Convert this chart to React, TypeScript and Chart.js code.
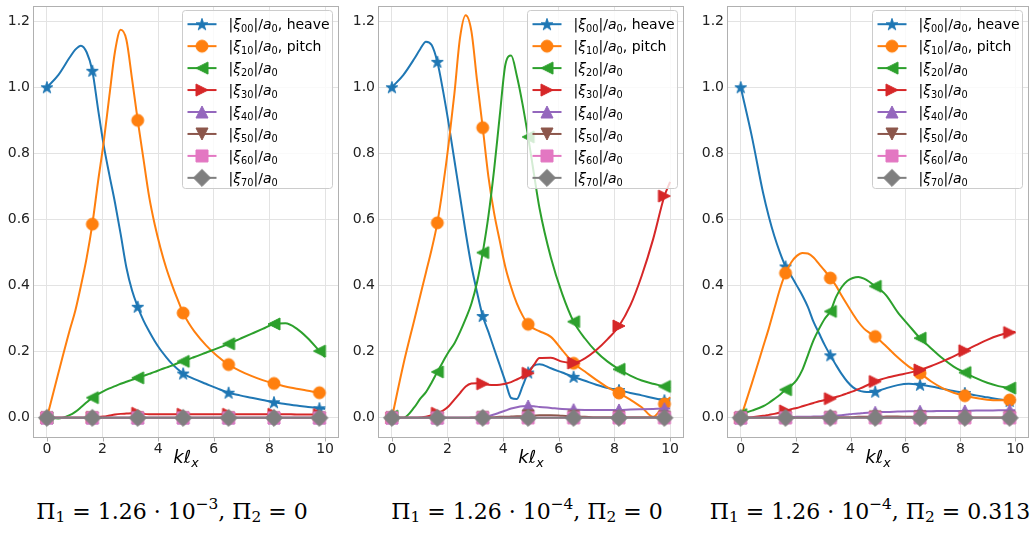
import React, { useEffect, useRef } from "react";
import { Chart, registerables } from "chart.js";
Chart.register(...registerables);

// ---------------- data ----------------
const KX = [
  0, 0.408, 0.816, 1.02, 1.224, 1.429, 1.633,
  1.837, 2.041, 2.245, 2.449, 2.653, 2.857, 3.061, 3.265,
  3.469, 3.673, 3.878, 4.082, 4.286, 4.49, 4.694, 4.898,
  5.102, 5.306, 5.714, 6.122, 6.531, 6.939, 7.347, 7.755,
  8.163, 8.571, 8.98, 9.388, 9.796, 10.0,
];
const MARK_X = [0, 1.633, 3.265, 4.898, 6.531, 8.163, 9.796];
const X_TICKS = [0, 2, 4, 6, 8, 10];
const Y_TICKS = [0, 0.2, 0.4, 0.6, 0.8, 1.0, 1.2];
const MODE_IDX = ["00", "10", "20", "30", "40", "50", "60", "70"];
const MODE_SUFFIX = [", heave", ", pitch", "", "", "", "", "", ""];

// Panel 1: Π1 = 1.26e-3, Π2 = 0
const P1_XI00 = [
  1.0, 1.037, 1.09, 1.114, 1.126, 1.106, 1.05,
  0.935, 0.825, 0.735, 0.65, 0.555, 0.455, 0.385, 0.336,
  0.295, 0.262, 0.232, 0.206, 0.184, 0.164, 0.148, 0.134,
  0.125, 0.117, 0.103, 0.089, 0.076, 0.068, 0.061, 0.054,
  0.047, 0.042, 0.037, 0.033, 0.029, 0.027,
];
const P1_XI10 = [
  0, 0.134, 0.264, 0.324, 0.4, 0.484, 0.586,
  0.714, 0.834, 0.974, 1.109, 1.174, 1.144, 1.025, 0.9,
  0.784, 0.67, 0.584, 0.514, 0.454, 0.404, 0.359, 0.317,
  0.286, 0.261, 0.22, 0.187, 0.161, 0.142, 0.127, 0.114,
  0.104, 0.095, 0.088, 0.082, 0.076, 0.074,
];
const P1_XI20 = [
  0, -0.002, 0.008, 0.018, 0.032, 0.047, 0.061,
  0.072, 0.081, 0.089, 0.096, 0.103, 0.109, 0.115, 0.121,
  0.127, 0.133, 0.139, 0.146, 0.152, 0.158, 0.165, 0.171,
  0.178, 0.184, 0.197, 0.21, 0.224, 0.239, 0.254, 0.269,
  0.284, 0.286, 0.27, 0.24, 0.202, 0.184,
];
const P1_XI30 = [
  0, 0, 0, 0, 0, 0, 0.001,
  0.002, 0.004, 0.007, 0.01, 0.012, 0.013, 0.014, 0.014,
  0.012, 0.011, 0.011, 0.011, 0.011, 0.011, 0.011, 0.011,
  0.011, 0.011, 0.011, 0.011, 0.011, 0.011, 0.011, 0.011,
  0.011, 0.011, 0.01, 0.01, 0.01, 0.01,
];
const P1_XI40 = [
  0, 0, 0, 0, 0, 0, 0,
  0, 0, 0, 0, 0, 0, 0, 0,
  0, 0, 0, 0, 0, 0, 0, 0,
  0, 0, 0, 0, 0, 0, 0, 0,
  0, 0, 0, 0, 0, 0,
];
const P1_XI50 = [
  0, 0, 0, 0, 0, 0, 0,
  0, 0, 0, 0, 0, 0, 0, 0,
  0, 0, 0, 0, 0, 0, 0, 0,
  0, 0, 0, 0, 0, 0, 0, 0,
  0, 0, 0, 0, 0, 0,
];
const P1_XI60 = [
  0, 0, 0, 0, 0, 0, 0,
  0, 0, 0, 0, 0, 0, 0, 0,
  0, 0, 0, 0, 0, 0, 0, 0,
  0, 0, 0, 0, 0, 0, 0, 0,
  0, 0, 0, 0, 0, 0,
];
const P1_XI70 = [
  0, 0, 0, 0, 0, 0, 0,
  0, 0, 0, 0, 0, 0, 0, 0,
  0, 0, 0, 0, 0, 0, 0, 0,
  0, 0, 0, 0, 0, 0, 0, 0,
  0, 0, 0, 0, 0, 0,
];

// Panel 2: Π1 = 1.26e-4, Π2 = 0
const P2_XI00 = [
  1.0, 1.037, 1.088, 1.116, 1.138, 1.128, 1.077,
  0.99, 0.89, 0.78, 0.67, 0.56, 0.46, 0.38, 0.308,
  0.26, 0.209, 0.159, 0.109, 0.06, 0.057, 0.095, 0.137,
  0.158, 0.162, 0.15, 0.137, 0.124, 0.112, 0.1, 0.09,
  0.084, 0.075, 0.068, 0.06, 0.053, 0.05,
];
const P2_XI10 = [
  0, 0.16, 0.3, 0.37, 0.44, 0.51, 0.59,
  0.7, 0.83, 0.98, 1.15, 1.218, 1.17, 1.02, 0.878,
  0.73, 0.62, 0.535, 0.455, 0.395, 0.346, 0.31, 0.283,
  0.27, 0.262, 0.245, 0.205, 0.165, 0.14, 0.115, 0.092,
  0.075, 0.055, 0.032, 0.003, 0.042, 0.063,
];
const P2_XI20 = [
  0.005, 0.0, 0.033, 0.058, 0.078, 0.107, 0.139,
  0.17, 0.2, 0.225, 0.26, 0.3, 0.345, 0.41, 0.5,
  0.61, 0.75, 0.915, 1.07, 1.096, 1.035, 0.95, 0.85,
  0.74, 0.634, 0.485, 0.375, 0.291, 0.24, 0.2, 0.17,
  0.147, 0.128, 0.113, 0.103, 0.095, 0.09,
];
const P2_XI30 = [
  0, 0, 0, 0.001, 0.003, 0.008, 0.014,
  0.022, 0.035, 0.055, 0.075, 0.095, 0.104, 0.105, 0.103,
  0.1, 0.099, 0.1, 0.103, 0.108, 0.116, 0.125, 0.135,
  0.16, 0.181, 0.182, 0.17, 0.166, 0.18, 0.205, 0.238,
  0.278, 0.34, 0.43, 0.54, 0.671, 0.714,
];
const P2_XI40 = [
  0, 0, 0, 0, 0, 0, 0,
  0, 0, 0, 0, 0, 0, 0.001, 0.002,
  0.005, 0.01, 0.016, 0.022, 0.028, 0.032, 0.035, 0.036,
  0.035, 0.033, 0.03, 0.027, 0.025, 0.024, 0.024, 0.024,
  0.024, 0.025, 0.026, 0.027, 0.028, 0.028,
];
const P2_XI50 = [
  0, 0, 0, 0, 0, 0, 0,
  0, 0, 0, 0, 0, 0.001, 0.001, 0.001,
  0.002, 0.002, 0.003, 0.003, 0.004, 0.005, 0.005, 0.006,
  0.007, 0.008, 0.008, 0.006, 0.004, 0.003, 0.002, 0.002,
  0.002, 0.002, 0.002, 0.002, 0.002, 0.002,
];
const P2_XI60 = [
  0, 0, 0, 0, 0, 0, 0,
  0, 0, 0, 0, 0, 0, 0, 0,
  0, 0, 0, 0, 0, 0, 0, 0,
  0, 0, 0, 0, 0, 0, 0, 0,
  0, 0, 0, 0, 0, 0,
];
const P2_XI70 = [
  0, 0, 0, 0, 0, 0, 0,
  0, 0, 0, 0, 0, 0, 0, 0,
  0, 0, 0, 0, 0, 0, 0, 0,
  0, 0, 0, 0, 0, 0, 0, 0,
  0, 0, 0, 0, 0, 0,
];

// Panel 3: Π1 = 1.26e-4, Π2 = 0.313
const P3_XI00 = [
  1.0, 0.85, 0.68, 0.61, 0.55, 0.5, 0.458,
  0.43, 0.4, 0.37, 0.335, 0.29, 0.255, 0.22, 0.189,
  0.16, 0.133, 0.11, 0.093, 0.083, 0.079, 0.078, 0.079,
  0.084, 0.09, 0.099, 0.103, 0.1, 0.095, 0.088, 0.081,
  0.075, 0.068, 0.062, 0.056, 0.051, 0.049,
];
const P3_XI10 = [
  0, 0.105, 0.215, 0.27, 0.33, 0.39, 0.438,
  0.47, 0.49, 0.499, 0.497, 0.485, 0.465, 0.445, 0.423,
  0.4, 0.37, 0.342, 0.315, 0.29, 0.27, 0.257, 0.246,
  0.232, 0.216, 0.183, 0.155, 0.135, 0.11, 0.09, 0.076,
  0.067, 0.06, 0.055, 0.053, 0.054, 0.054,
];
const P3_XI20 = [
  0.01, 0.022, 0.035, 0.045, 0.057, 0.07, 0.085,
  0.097, 0.115, 0.145, 0.19, 0.235, 0.27, 0.3, 0.322,
  0.365, 0.395, 0.414, 0.423, 0.426, 0.421, 0.411, 0.398,
  0.386, 0.37, 0.32, 0.28, 0.241, 0.21, 0.18, 0.155,
  0.137, 0.12, 0.106, 0.096, 0.09, 0.086,
];
const P3_XI30 = [
  0, 0.002, 0.006, 0.009, 0.012, 0.016, 0.021,
  0.026, 0.03, 0.035, 0.04, 0.045, 0.05, 0.054, 0.058,
  0.063, 0.068, 0.074, 0.08, 0.087, 0.094, 0.102, 0.11,
  0.116, 0.121, 0.129, 0.136, 0.145, 0.157, 0.171, 0.186,
  0.203, 0.22, 0.236, 0.249, 0.258, 0.26,
];
const P3_XI40 = [
  0, 0, 0.001, 0.001, 0.001, 0.002, 0.002,
  0.002, 0.003, 0.003, 0.003, 0.004, 0.004, 0.005, 0.006,
  0.007, 0.008, 0.01, 0.012, 0.013, 0.015, 0.016, 0.017,
  0.018, 0.018, 0.019, 0.02, 0.02, 0.02, 0.021, 0.021,
  0.021, 0.022, 0.022, 0.023, 0.023, 0.023,
];
const P3_XI50 = [
  0, 0, 0, 0, 0, 0, 0,
  0, 0, 0, 0, 0.001, 0.001, 0.001, 0.001,
  0.001, 0.002, 0.002, 0.002, 0.003, 0.003, 0.003, 0.003,
  0.003, 0.004, 0.004, 0.003, 0.003, 0.002, 0.002, 0.002,
  0.001, 0.001, 0.001, 0.001, 0.001, 0.001,
];
const P3_XI60 = [
  0, 0, 0, 0, 0, 0, 0,
  0, 0, 0, 0, 0, 0, 0, 0,
  0, 0, 0, 0, 0, 0, 0, 0,
  0, 0, 0, 0, 0, 0, 0, 0,
  0, 0, 0, 0, 0, 0,
];
const P3_XI70 = [
  0, 0, 0, 0, 0, 0, 0,
  0, 0, 0, 0, 0, 0, 0, 0,
  0, 0, 0, 0, 0, 0, 0, 0,
  0, 0, 0, 0, 0, 0, 0, 0,
  0, 0, 0, 0, 0, 0,
];

const PANEL_SERIES = [
  [P1_XI00, P1_XI10, P1_XI20, P1_XI30, P1_XI40, P1_XI50, P1_XI60, P1_XI70],
  [P2_XI00, P2_XI10, P2_XI20, P2_XI30, P2_XI40, P2_XI50, P2_XI60, P2_XI70],
  [P3_XI00, P3_XI10, P3_XI20, P3_XI30, P3_XI40, P3_XI50, P3_XI60, P3_XI70],
];
const TITLE_PI1_MANT = ["1.26", "1.26", "1.26"];
const TITLE_PI1_EXP = ["−3", "−4", "−4"];
const TITLE_PI2 = ["0", "0", "0.313"];

// ---------------- style / layout ----------------
const COLORS = ["#1f77b4", "#ff7f0e", "#2ca02c", "#d62728", "#9467bd", "#8c564b", "#e377c2", "#7f7f7f"];
const MARKERS = ["star", "circle", "triLeft", "triRight", "triUp", "triDown", "square", "diamond"];
const GRID = "#e3e3e3";
const SPINE = "#b0b0b0";
const FONT = '"DejaVu Sans", sans-serif';
const PANEL_LAYOUT = [
  { left: 0, yW: 33, plotW: 308, padR: 4 },
  { left: 345, yW: 33, plotW: 310, padR: 2 },
  { left: 694, yW: 33, plotW: 308, padR: 0 },
];
const TITLE_CENTERS = [172, 527, 870];
const CANVAS_H = 480;
const X_AXIS_H = 42;
const MARKER_SIZE = 12;

type Seg = { t: string; it?: boolean; sub?: boolean };

function makeMarker(kind: string, color: string): HTMLCanvasElement {
  const c = document.createElement("canvas");
  c.width = 26;
  c.height = 26;
  const g = c.getContext("2d")!;
  const cx = 13, cy = 13, s = MARKER_SIZE, h = s / 2;
  g.fillStyle = color;
  g.strokeStyle = color;
  g.lineWidth = 1;
  g.lineJoin = "miter";
  g.beginPath();
  if (kind === "circle") {
    g.arc(cx, cy, h, 0, Math.PI * 2);
  } else if (kind === "star") {
    for (let i = 0; i < 10; i++) {
      const r = i % 2 === 0 ? h * 1.05 : h * 1.05 * 0.382;
      const a = -Math.PI / 2 + (i * Math.PI) / 5;
      const px = cx + r * Math.cos(a), py = cy + 0.5 + r * Math.sin(a);
      if (i === 0) g.moveTo(px, py); else g.lineTo(px, py);
    }
    g.closePath();
  } else if (kind === "triUp") {
    g.moveTo(cx, cy - h); g.lineTo(cx + h, cy + h); g.lineTo(cx - h, cy + h); g.closePath();
  } else if (kind === "triDown") {
    g.moveTo(cx, cy + h); g.lineTo(cx + h, cy - h); g.lineTo(cx - h, cy - h); g.closePath();
  } else if (kind === "triLeft") {
    g.moveTo(cx - h, cy); g.lineTo(cx + h, cy - h); g.lineTo(cx + h, cy + h); g.closePath();
  } else if (kind === "triRight") {
    g.moveTo(cx + h, cy); g.lineTo(cx - h, cy - h); g.lineTo(cx - h, cy + h); g.closePath();
  } else if (kind === "square") {
    g.rect(cx - h, cy - h, s, s);
  } else {
    const d = h * Math.SQRT2;
    g.moveTo(cx, cy - d); g.lineTo(cx + d, cy); g.lineTo(cx, cy + d); g.lineTo(cx - d, cy); g.closePath();
  }
  g.fill();
  g.stroke();
  return c;
}

function drawRich(ctx: CanvasRenderingContext2D, segs: Seg[], x: number, y: number, size: number, align: string) {
  const fontFor = (s: Seg) => `${s.it ? "italic " : ""}${s.sub ? (size * 0.7).toFixed(1) : size}px ${FONT}`;
  let w = 0;
  for (const s of segs) { ctx.font = fontFor(s); w += ctx.measureText(s.t).width; }
  let cx = align === "center" ? x - w / 2 : x;
  ctx.textAlign = "left";
  ctx.textBaseline = "alphabetic";
  for (const s of segs) {
    ctx.font = fontFor(s);
    ctx.fillText(s.t, cx, y + (s.sub ? size * 0.22 : 0));
    cx += ctx.measureText(s.t).width;
  }
}

function legendSegs(i: number): Seg[] {
  const segs: Seg[] = [
    { t: "|" }, { t: "ξ", it: true }, { t: MODE_IDX[i], sub: true },
    { t: "|/" }, { t: "a", it: true }, { t: "0", sub: true },
  ];
  if (MODE_SUFFIX[i]) segs.push({ t: MODE_SUFFIX[i] });
  return segs;
}

function makePlugin(markers: HTMLCanvasElement[]) {
  return {
    id: "panelDecor",
    afterDatasetsDraw(chart: any) {
      const ctx: CanvasRenderingContext2D = chart.ctx;
      const a = chart.chartArea;
      ctx.save();
      ctx.strokeStyle = SPINE;
      ctx.lineWidth = 1;
      ctx.strokeRect(Math.round(a.left) + 0.5, Math.round(a.top) + 0.5,
        Math.round(a.right - a.left) - 1, Math.round(a.bottom - a.top) - 1);

      const lw = 150, lh = 178;
      const lx = Math.round(a.right - 7 - lw) + 0.5, ly = Math.round(a.top + 4) + 0.5;
      ctx.beginPath();
      (ctx as any).roundRect(lx, ly, lw, lh, 3);
      ctx.fillStyle = "rgba(255,255,255,0.8)";
      ctx.fill();
      ctx.strokeStyle = "#cccccc";
      ctx.stroke();
      for (let i = 0; i < 8; i++) {
        const cy = ly + 13.7 + i * 21.95;
        ctx.strokeStyle = COLORS[i];
        ctx.lineWidth = 2;
        ctx.beginPath();
        ctx.moveTo(lx + 5, cy);
        ctx.lineTo(lx + 34, cy);
        ctx.stroke();
        ctx.drawImage(markers[i], lx + 19.5 - 13, cy - 13);
        ctx.fillStyle = "#000";
        drawRich(ctx, legendSegs(i), lx + 46, cy + 5, 14, "left");
      }
      ctx.restore();
    },
    afterDraw(chart: any) {
      const ctx: CanvasRenderingContext2D = chart.ctx;
      const a = chart.chartArea;
      const xs = chart.scales.x;
      ctx.save();
      // x tick marks and labels
      ctx.font = `14px ${FONT}`;
      ctx.textAlign = "center";
      ctx.textBaseline = "alphabetic";
      for (const v of X_TICKS) {
        const px = xs.getPixelForValue(v);
        ctx.strokeStyle = SPINE;
        ctx.lineWidth = 1;
        ctx.beginPath();
        ctx.moveTo(Math.round(px) + 0.5, a.bottom);
        ctx.lineTo(Math.round(px) + 0.5, a.bottom + 3.5);
        ctx.stroke();
        ctx.fillStyle = "#222";
        ctx.fillText(String(v), px, a.bottom + 14.5);
      }
      ctx.fillStyle = "#000";
      drawRich(ctx, [{ t: "kℓ", it: true }, { t: "x", it: true, sub: true }], (a.left + a.right) / 2, a.bottom + 25, 18, "center");
      ctx.restore();
    },
  };
}

function isMarker(x: number) {
  return MARK_X.some((m) => Math.abs(m - x) < 1e-3);
}

export default function App() {
  const refs = [useRef<HTMLCanvasElement>(null), useRef<HTMLCanvasElement>(null), useRef<HTMLCanvasElement>(null)];

  useEffect(() => {
    const markers = MARKERS.map((m, i) => makeMarker(m, COLORS[i]));
    const charts: Chart[] = [];
    PANEL_SERIES.forEach((series, p) => {
      const cv = refs[p].current;
      if (!cv) return;
      const L = PANEL_LAYOUT[p];
      const datasets = series.map((ys, i) => ({
        label: `|ξ${MODE_IDX[i]}|/a0${MODE_SUFFIX[i]}`,
        data: KX.map((x, j) => ({ x, y: ys[j] })),
        borderColor: COLORS[i],
        backgroundColor: COLORS[i],
        borderWidth: 2,
        pointStyle: markers[i],
        pointRadius: KX.map((x) => (isMarker(x) ? 6 : 0)),
        pointHoverRadius: KX.map((x) => (isMarker(x) ? 6 : 0)),
        pointBorderWidth: 0,
        cubicInterpolationMode: "monotone" as const,
        order: 8 - i,
      }));
      const chart = new Chart(cv, {
        type: "line",
        data: { datasets },
        plugins: [makePlugin(markers)],
        options: {
          animation: false,
          responsive: false,
          devicePixelRatio: 1,
          events: [],
          layout: { padding: { left: 0, top: 3, right: L.padR, bottom: 0 } },
          plugins: { legend: { display: false }, tooltip: { enabled: false } },
          scales: {
            x: {
              type: "linear",
              min: -0.5,
              max: 10.5,
              afterBuildTicks: (s: any) => { s.ticks = X_TICKS.map((v) => ({ value: v })); },
              afterFit: (s: any) => { s.height = X_AXIS_H; s.paddingLeft = 0; s.paddingRight = 0; },
              grid: { color: GRID, lineWidth: 1, drawTicks: false },
              border: { display: false },
              ticks: { display: false },
            },
            y: {
              type: "linear",
              min: -0.061,
              max: 1.246,
              afterBuildTicks: (s: any) => { s.ticks = Y_TICKS.map((v) => ({ value: v })); },
              afterFit: (s: any) => { s.width = L.yW; s.paddingTop = 0; s.paddingBottom = 0; },
              grid: { color: GRID, lineWidth: 1, drawTicks: false },
              border: { display: false },
              ticks: {
                font: { family: FONT, size: 14 },
                color: "#222",
                padding: 3,
                autoSkip: false,
                callback: (v: any) => Number(v).toFixed(1),
              },
            },
          },
        },
      } as any);
      charts.push(chart);
    });
    return () => charts.forEach((c) => c.destroy());
  }, []);

  const sub: React.CSSProperties = { fontSize: "0.7em", position: "relative", top: "0.22em" };
  const sup: React.CSSProperties = { fontSize: "0.7em", position: "relative", top: "-0.62em" };

  return (
    <div style={{ position: "absolute", left: 0, top: 0, width: 1033, height: 542, overflow: "hidden", background: "#fff" }}>
      {PANEL_LAYOUT.map((L, p) => (
        <canvas
          key={p}
          ref={refs[p]}
          width={L.yW + L.plotW + L.padR}
          height={CANVAS_H}
          style={{ position: "absolute", left: L.left, top: 0, width: L.yW + L.plotW + L.padR, height: CANVAS_H }}
        />
      ))}
      {TITLE_CENTERS.map((c, p) => (
        <div
          key={"t" + p}
          style={{
            position: "absolute", left: c - 200, top: 499, width: 400, textAlign: "center",
            fontFamily: '"DejaVu Serif", serif', fontSize: 22, lineHeight: "26px", whiteSpace: "nowrap", color: "#000",
          }}
        >
          Π<span style={sub}>1</span> = {TITLE_PI1_MANT[p]} · 10<span style={sup}>{TITLE_PI1_EXP[p]}</span>, Π<span style={sub}>2</span> = {TITLE_PI2[p]}
        </div>
      ))}
    </div>
  );
}
